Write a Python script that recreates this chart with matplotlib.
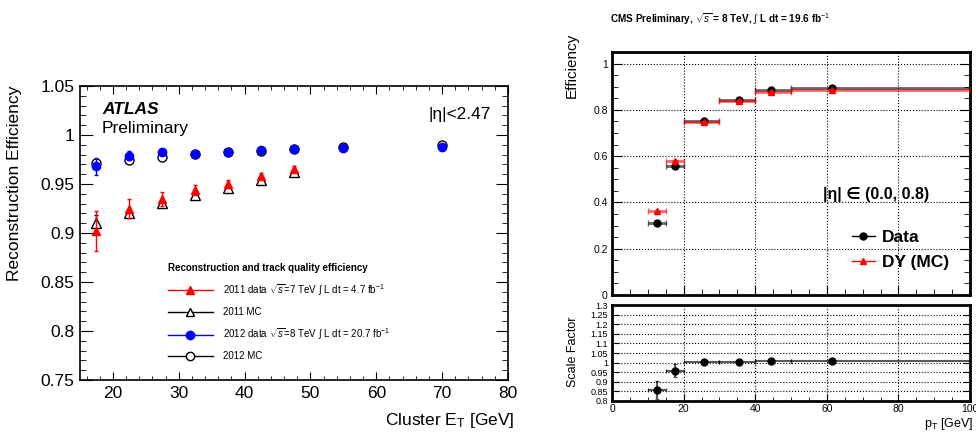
import matplotlib
matplotlib.use("Agg")
import matplotlib.pyplot as plt
from matplotlib.lines import Line2D
from matplotlib.ticker import MultipleLocator
import numpy as np

plt.rcParams['font.family'] = ['Liberation Sans', 'DejaVu Sans']
plt.rcParams['mathtext.fontset'] = 'custom'
plt.rcParams['mathtext.rm'] = 'Liberation Sans'
plt.rcParams['mathtext.it'] = 'Liberation Sans:italic'
plt.rcParams['mathtext.bf'] = 'Liberation Sans:bold'

# ATLAS electron reconstruction efficiency vs cluster ET
et_2011 = [17.5, 22.5, 27.5, 32.5, 37.5, 42.5, 47.5]
eff_2011_data = [0.902, 0.925, 0.935, 0.944, 0.950, 0.958, 0.965]
err_2011_data = [0.020, 0.010, 0.007, 0.005, 0.004, 0.003, 0.003]
eff_2011_mc = [0.910, 0.920, 0.931, 0.939, 0.946, 0.954, 0.962]
err_2011_mc = [0.008, 0.005, 0.003, 0.002, 0.002, 0.002, 0.002]

et_2012 = [17.5, 22.5, 27.5, 32.5, 37.5, 42.5, 47.5, 55, 70]
eff_2012_data = [0.968, 0.979, 0.983, 0.981, 0.983, 0.985, 0.986, 0.987, 0.988]
err_2012_data = [0.009, 0.005, 0.003, 0.002, 0.002, 0.002, 0.002, 0.002, 0.002]
eff_2012_mc = [0.971, 0.975, 0.978, 0.981, 0.983, 0.984, 0.986, 0.988, 0.990]
err_2012_mc = [0.004, 0.003, 0.002, 0.001, 0.001, 0.001, 0.001, 0.001, 0.001]

# CMS efficiency vs pT, |eta| in (0.0, 0.8)
pt_lo = np.array([10, 15, 20, 30, 40, 50])
pt_hi = np.array([15, 20, 30, 40, 50, 100])
pt_mean = np.array([12.5, 17.6, 25.7, 35.6, 44.3, 61.5])
eff_data = [0.313, 0.556, 0.753, 0.844, 0.884, 0.895]
eff_mc = [0.362, 0.580, 0.749, 0.840, 0.877, 0.887]
sf = [0.857, 0.958, 1.003, 1.003, 1.007, 1.007]
sf_err = [0.047, 0.035, 0.004, 0.003, 0.003, 0.003]

W, H = 976, 433
fig = plt.figure(figsize=(W / 100, H / 100), dpi=100)


def box(l, t, r, b):
    return [l / W, 1 - b / H, (r - l) / W, (b - t) / H]


def ftext(x, y, s, **kw):
    return fig.text(x / W, 1 - y / H, s, **kw)


# ---------------- left: ATLAS ----------------
ax = fig.add_axes(box(80, 86, 508, 380))
ax.errorbar(et_2011, eff_2011_mc, yerr=err_2011_mc, fmt='^', ms=7, mfc='white',
            mec='black', ecolor='black', elinewidth=1, capsize=1.5, zorder=3)
ax.errorbar(et_2011, eff_2011_data, yerr=err_2011_data, fmt='^', ms=6, color='red',
            ecolor='red', elinewidth=1, capsize=1.5, zorder=4)
ax.errorbar(et_2012, eff_2012_mc, yerr=err_2012_mc, fmt='o', ms=6.5, mfc='white',
            mec='black', ecolor='black', elinewidth=1, capsize=1.5, zorder=3)
ax.errorbar(et_2012, eff_2012_data, yerr=err_2012_data, fmt='o', ms=6, color='blue',
            ecolor='blue', elinewidth=1, capsize=1.5, zorder=4)
ax.set_xlim(15, 80)
ax.set_ylim(0.75, 1.05)
ax.xaxis.set_major_locator(MultipleLocator(10))
ax.xaxis.set_minor_locator(MultipleLocator(2))
ax.yaxis.set_major_locator(MultipleLocator(0.05))
ax.yaxis.set_minor_locator(MultipleLocator(0.01))
ax.set_yticks([0.75, 0.8, 0.85, 0.9, 0.95, 1.0, 1.05])
ax.set_yticklabels(['0.75', '0.8', '0.85', '0.9', '0.95', '1', '1.05'])
ax.set_xticks([20, 30, 40, 50, 60, 70, 80])
ax.tick_params(which='both', direction='in', top=True, right=True, labelsize=12.5)
ax.tick_params(axis='y', which='major', length=9, pad=4)
ax.tick_params(axis='y', which='minor', length=4.5)
ax.tick_params(axis='x', which='major', length=6, pad=4)
ax.tick_params(axis='x', which='minor', length=3)
for sp in ax.spines.values():
    sp.set_linewidth(1.2)

ftext(15, 86, 'Reconstruction Efficiency', rotation=90, ha='center', va='top', fontsize=12.5)
ftext(515, 421, 'Cluster E$_\\mathrm{T}$ [GeV]', ha='right', va='center', fontsize=12.5)
ftext(102, 110, 'ATLAS', fontsize=12.5, fontweight='bold', style='italic', va='center')
ftext(102, 128, 'Preliminary', fontsize=12.5, va='center')
ftext(428, 115, '|η|<2.47', fontsize=12.5, va='center')

handles = [
    Line2D([], [], color='red', marker='^', ms=6, lw=1),
    Line2D([], [], color='black', marker='^', ms=6, mfc='white', lw=1),
    Line2D([], [], color='blue', marker='o', ms=6, lw=1),
    Line2D([], [], color='black', marker='o', ms=6, mfc='white', lw=1),
]
labels = [
    '2011 data $\\sqrt{s}$=7 TeV $\\int$ L dt = 4.7 fb$^{-1}$',
    '2011 MC',
    '2012 data $\\sqrt{s}$=8 TeV $\\int$ L dt = 20.7 fb$^{-1}$',
    '2012 MC',
]
leg = fig.legend(handles, labels, loc='upper left', bbox_to_anchor=(163 / W, 1 - 258 / H),
                 frameon=False, fontsize=7, borderpad=0, handlelength=4.6,
                 handletextpad=1.1, labelspacing=0.95,
                 title='Reconstruction and track quality efficiency',
                 title_fontproperties={'weight': 'bold', 'size': 7}, alignment='left')

# ---------------- right: CMS ----------------
xerr = [pt_mean - pt_lo, pt_hi - pt_mean]
axm = fig.add_axes(box(612, 52, 970, 295))
axm.errorbar(pt_mean, eff_data, xerr=xerr, yerr=0.003, fmt='o', ms=5, color='black',
             ecolor=(0, 0, 0, 0.6), elinewidth=2, capsize=2, zorder=3)
axm.errorbar(pt_mean, eff_mc, xerr=xerr, yerr=0.003, fmt='^', ms=5, color='red',
             ecolor=(1, 0, 0, 0.6), elinewidth=2, capsize=2, zorder=4)
axm.set_xlim(0, 100)
axm.set_ylim(0, 1.05)
axm.xaxis.set_major_locator(MultipleLocator(20))
axm.xaxis.set_minor_locator(MultipleLocator(5))
axm.yaxis.set_major_locator(MultipleLocator(0.2))
axm.yaxis.set_minor_locator(MultipleLocator(0.05))
axm.set_yticks([0, 0.2, 0.4, 0.6, 0.8, 1.0])
axm.set_yticklabels(['0', '0.2', '0.4', '0.6', '0.8', '1'])
axm.tick_params(which='both', direction='in', right=True, labelsize=7.5)
axm.tick_params(axis='x', labelbottom=False)
axm.tick_params(which='major', length=7, pad=3)
axm.tick_params(which='minor', length=4)
axm.grid(True, which='major', color='black', linestyle=':', linewidth=0.8)
for sp in axm.spines.values():
    sp.set_linewidth(2)

handles_cms = [Line2D([], [], color='black', marker='o', ms=5, lw=1),
               Line2D([], [], color='red', marker='^', ms=5, lw=1)]
fig.legend(handles_cms, ['Data', 'DY (MC)'], loc='upper left',
           bbox_to_anchor=(843 / W, 1 - 221 / H), frameon=False,
           prop={'weight': 'bold', 'size': 12.5}, borderpad=0,
           handlelength=1.35, handletextpad=0.4, labelspacing=0.6)
ftext(823, 195, '|η| ∈ (0.0, 0.8)', fontsize=11.5, fontweight='bold', va='center')
ftext(610, 19, 'CMS Preliminary, $\\sqrt{s}$ = 8 TeV, $\\int$ L dt = 19.6 fb$^{-1}$',
      fontsize=7.2, fontweight='bold', va='center')
ftext(572, 33, 'Efficiency', rotation=90, ha='center', va='top', fontsize=11)

axr = fig.add_axes(box(612, 305, 970, 401))
axr.errorbar(pt_mean, sf, xerr=xerr, yerr=sf_err, fmt='o', ms=5, color='black',
             ecolor=(0, 0, 0, 0.65), elinewidth=1.5, capsize=1.5, zorder=3)
axr.set_xlim(0, 100)
axr.set_ylim(0.8, 1.3)
axr.xaxis.set_major_locator(MultipleLocator(20))
axr.xaxis.set_minor_locator(MultipleLocator(5))
ticks_sf = [0.8, 0.85, 0.9, 0.95, 1.0, 1.05, 1.1, 1.15, 1.2, 1.25, 1.3]
axr.set_yticks(ticks_sf)
axr.set_yticklabels(['0.8', '0.85', '0.9', '0.95', '1', '1.05', '1.1', '1.15', '1.2', '1.25', '1.3'])
axr.tick_params(which='both', direction='in', right=True, labelsize=7.5)
axr.tick_params(axis='y', labelsize=6.5, pad=3)
axr.tick_params(axis='x', pad=2)
axr.tick_params(which='major', length=5)
axr.tick_params(which='minor', length=3)
axr.grid(True, which='major', color='black', linestyle=':', linewidth=0.8)
for sp in axr.spines.values():
    sp.set_linewidth(2)
ftext(573, 352, 'Scale Factor', rotation=90, ha='center', va='center', fontsize=9)
ftext(973, 424, 'p$_\\mathrm{T}$ [GeV]', ha='right', va='center', fontsize=9)

fig.savefig('out.png', dpi=100)
